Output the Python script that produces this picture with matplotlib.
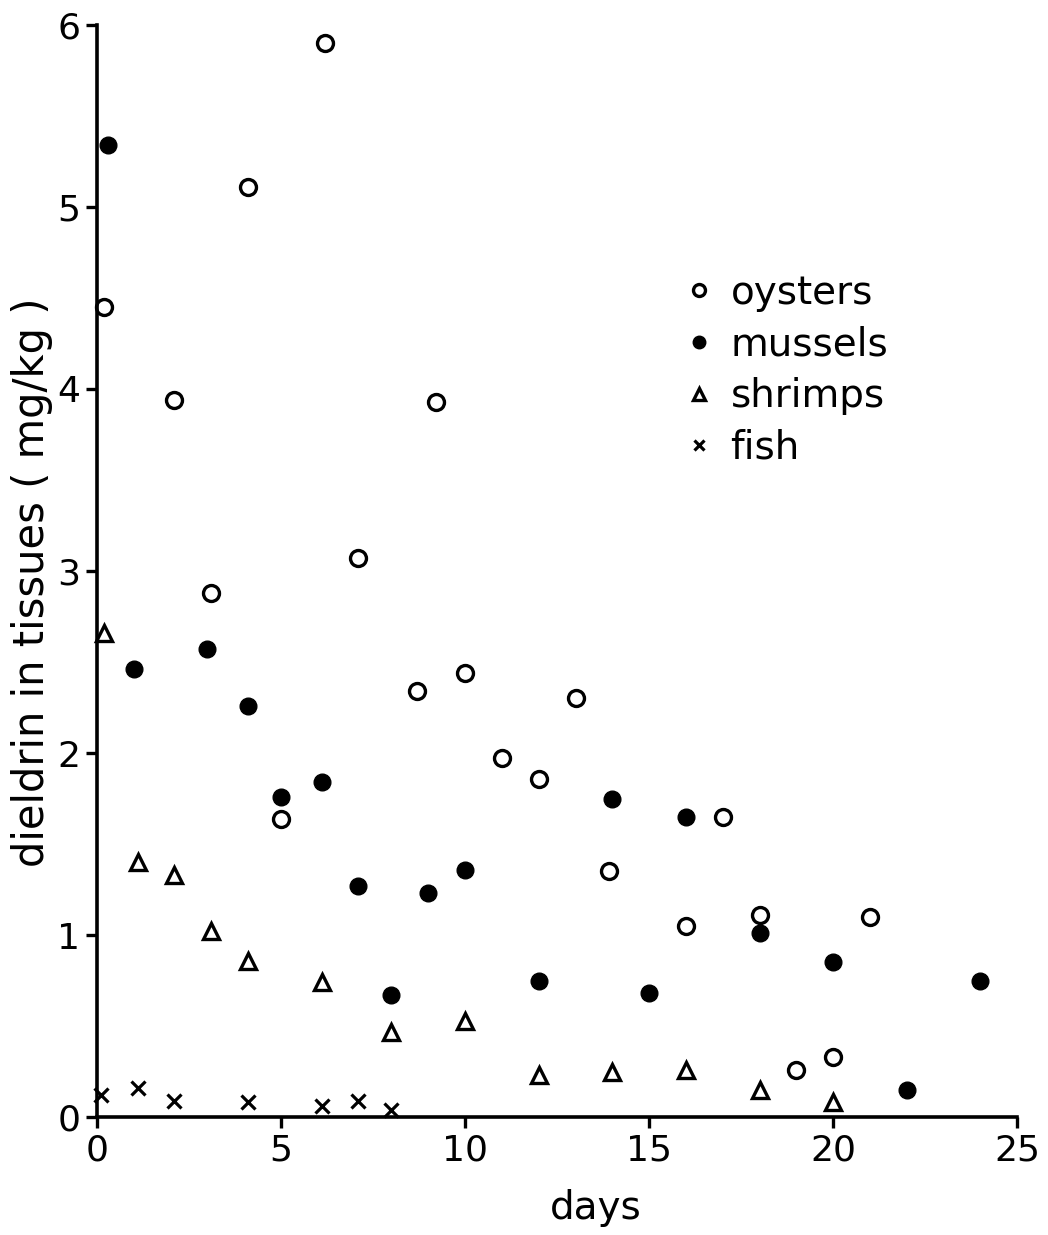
import matplotlib
matplotlib.use("Agg")
import matplotlib.pyplot as plt

# dieldrin in tissues (mg/kg) vs days
oyster_days = [0.2, 2.1, 3.1, 4.1, 5, 6.2, 7.1, 8.7, 9.2, 10, 11, 12, 13, 13.9, 16, 17, 18, 19, 20, 21]
oyster_vals = [4.45, 3.94, 2.88, 5.11, 1.64, 5.9, 3.07, 2.34, 3.93, 2.44, 1.97, 1.86, 2.30, 1.35, 1.05, 1.65, 1.11, 0.26, 0.33, 1.10]

mussel_days = [0.3, 1, 3, 4.1, 5, 6.1, 7.1, 8, 9, 10, 12, 14, 15, 16, 18, 20, 22, 24]
mussel_vals = [5.34, 2.46, 2.57, 2.26, 1.76, 1.84, 1.27, 0.67, 1.23, 1.36, 0.75, 1.75, 0.68, 1.65, 1.01, 0.85, 0.15, 0.75]

shrimp_days = [0.2, 1.1, 2.1, 3.1, 4.1, 6.1, 8, 10, 12, 14, 16, 18, 20]
shrimp_vals = [2.66, 1.40, 1.33, 1.02, 0.86, 0.74, 0.47, 0.53, 0.23, 0.25, 0.26, 0.15, 0.08]

fish_days = [0.1, 1.1, 2.1, 4.1, 6.1, 7.1, 8]
fish_vals = [0.12, 0.16, 0.09, 0.08, 0.06, 0.09, 0.04]

xticks = [0, 5, 10, 15, 20, 25]
yticks = [0, 1, 2, 3, 4, 5, 6]

fig = plt.figure(figsize=(10.48, 12.35), dpi=100)
ax = fig.add_axes([0.0926, 0.0955, 0.878, 0.8843])

ax.plot(oyster_days, oyster_vals, 'o', ls='none', ms=11.5, mfc='white', mec='black', mew=2.4,
        label='oysters', clip_on=False)
ax.plot(mussel_days, mussel_vals, 'o', ls='none', ms=12, mfc='black', mec='black', mew=1,
        label='mussels', clip_on=False)
ax.plot(shrimp_days, shrimp_vals, '^', ls='none', ms=11, mfc='white', mec='black', mew=2.4,
        label='shrimps', clip_on=False)
ax.plot(fish_days, fish_vals, 'x', ls='none', ms=10, mec='black', mew=2.3,
        label='fish', clip_on=False)

ax.set_xlim(0, 25)
ax.set_ylim(0, 6)
ax.set_xticks(xticks)
ax.set_yticks(yticks)

for s in ['top', 'right']:
    ax.spines[s].set_visible(False)
for s in ['left', 'bottom']:
    ax.spines[s].set_linewidth(2.6)

ax.tick_params(axis='both', direction='out', length=8, width=2.4, labelsize=26, pad=4)
ax.set_xlabel('days', fontsize=28)
ax.xaxis.set_label_coords(0.542, -0.066)
ax.set_ylabel('dieldrin in tissues ( mg/kg )', fontsize=30)
ax.yaxis.set_label_coords(-0.048, 0.49)

ax.legend(loc='upper left', bbox_to_anchor=(0.642, 0.772), frameon=False, fontsize=28,
          markerscale=0.75, handlelength=0.6, handletextpad=0.5, labelspacing=0.35,
          borderpad=0, borderaxespad=0)

fig.savefig('out.png', dpi=100)
